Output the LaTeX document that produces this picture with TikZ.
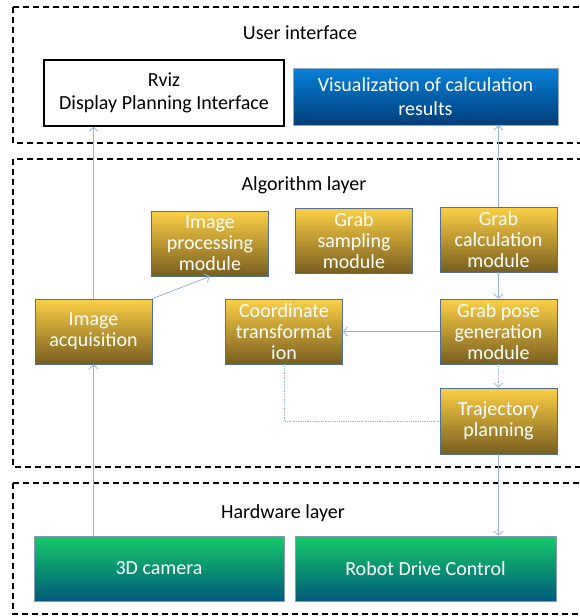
\documentclass[tikz,border=0pt]{standalone}
\usepackage{fontspec}
\setmainfont{Carlito}
\usetikzlibrary{arrows.meta}

\definecolor{goldtop}{RGB}{252,208,70}
\definecolor{goldbot}{RGB}{120,94,30}
\definecolor{greentop}{RGB}{22,202,104}
\definecolor{greenbot}{RGB}{0,90,122}
\definecolor{bluetop}{RGB}{8,128,216}
\definecolor{bluebot}{RGB}{0,62,120}
\definecolor{edgeblue}{RGB}{80,112,150}
\definecolor{linkblue}{RGB}{150,178,212}

\begin{document}
\begin{tikzpicture}[x=1pt,y=-1pt,
    layer/.style={draw=black,line width=2.2pt,dash pattern=on 6pt off 4pt},
    title/.style={font=\fontsize{20}{22}\selectfont},
    module/.style={draw=edgeblue,line width=0.8pt,top color=goldtop,bottom color=goldbot,
        text=white,align=center,minimum width=117pt,minimum height=65pt,inner sep=1pt,
        font=\fontsize{20}{21}\selectfont},
    device/.style={module,top color=greentop,bottom color=greenbot,draw=edgeblue!70},
    link/.style={draw=linkblue,line width=0.8pt,-{Straight Barb[length=4pt,width=9pt]}},
    dotlink/.style={link,densely dotted}]
    \useasboundingbox (0,0) rectangle (579,616);

    % layers
    \draw[layer] (13,7) rectangle (600,143);
    \draw[layer] (13,159) rectangle (600,467);
    \draw[layer] (13,483) rectangle (600,614);
    \node[title] (ui) at (300,33) {User interface};
    \node[title] (algo) at (304,185) {Algorithm layer};
    \node[title] (hw) at (283,513) {Hardware layer};

    % user interface
    \node[draw=black,line width=1.6pt,fill=white,align=center,minimum width=240pt,minimum height=66pt,
        inner sep=1pt,font=\fontsize{20}{23}\selectfont] (rviz) at (164,93) {Rviz\\ Display Planning Interface};
    \node[module,top color=bluetop,bottom color=bluebot,draw=edgeblue!60,minimum width=265pt,
        minimum height=57pt,font=\fontsize{20}{24}\selectfont] (vis) at (425.5,96.5) {Visualization of calculation\\ results};

    % algorithm layer
    \node[module] (acq) at (93.5,331.5) {Image\\ acquisition};
    \node[module] (proc) at (210,243.5) {Image\\ processing\\ module};
    \node[module] (coord) at (284,331.5) {Coordinate\\ transformat\\ ion};
    \node[module] (samp) at (354,240.5) {Grab\\ sampling\\ module};
    \node[module] (calc) at (498.5,239.5) {Grab\\ calculation\\ module};
    \node[module] (pose) at (498.5,331.5) {Grab pose\\ generation\\ module};
    \node[module,minimum height=66pt] (traj) at (498.5,421) {Trajectory\\ planning};

    % hardware layer
    \node[device,minimum width=250pt] (cam) at (159,568.5) {3D camera};
    \node[device,minimum width=261pt] (drive) at (425.5,568.5) {Robot Drive Control};

    % connectors
    \draw[link] (acq.south |- cam.north) -- (acq.south);
    \draw[link] (acq.north) -- (acq.north |- rviz.south);
    \draw[link] (acq.north east) -- (proc.south);
    \draw[link] (calc.north) -- (calc.north |- vis.south);
    \draw[link] (calc.south) -- (pose.north);
    \draw[link] (pose.west) -- (coord.east);
    \draw[dotlink] (pose.south) -- (traj.north);
    \draw[link] (traj.south) -- (traj.south |- drive.north);
    \draw[draw=linkblue,line width=0.8pt,densely dotted] (coord.south) |- (traj.west);
\end{tikzpicture}
\end{document}
